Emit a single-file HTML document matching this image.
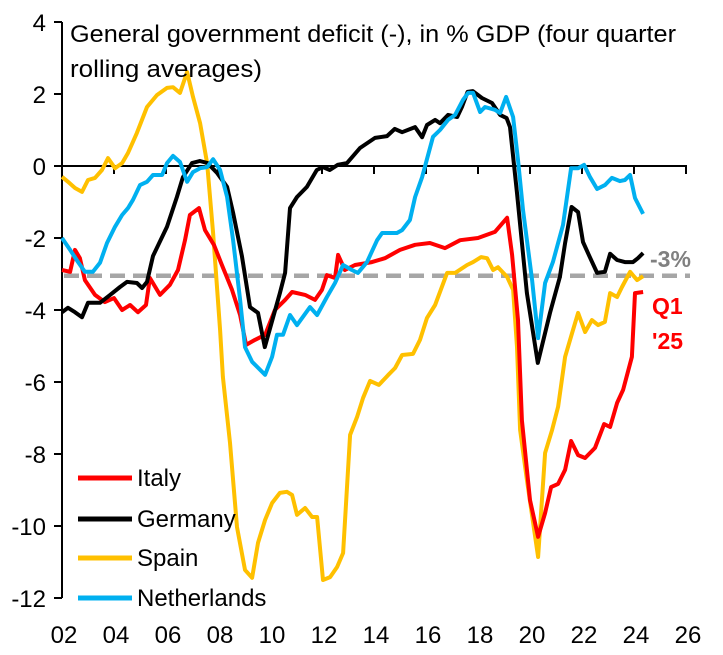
<!DOCTYPE html>
<html><head><meta charset="utf-8"><style>
body{margin:0;background:#fff;}
svg{display:block;font-family:"Liberation Sans",Arial,sans-serif;}
</style></head><body>
<svg id="chart" width="723" height="655" viewBox="0 0 723 655" xmlns="http://www.w3.org/2000/svg">
<rect width="723" height="655" fill="#fff"/>
<g id="axes"></g>
<g id="series"></g>
<text x="70" y="42" font-size="24" textLength="606" lengthAdjust="spacingAndGlyphs" fill="#000">General government deficit (-), in % GDP (four quarter</text>
<text x="70" y="77" font-size="24" textLength="192" lengthAdjust="spacingAndGlyphs" fill="#000">rolling averages)</text>
<text x="650" y="267" font-size="23" font-weight="bold" fill="#808080">-3%</text>
<text x="652" y="314" font-size="23" font-weight="bold" fill="#FF0000">Q1</text>
<text x="652" y="349" font-size="23" font-weight="bold" fill="#FF0000">'25</text>
<g id="legend"></g>
</svg>
<script>
const yTicks=[4,2,0,-2,-4,-6,-8,-10,-12];
const xTickYears=[2002,2004,2006,2008,2010,2012,2014,2016,2018,2020,2022,2024,2026];
const xTickLabels=["02","04","06","08","10","12","14","16","18","20","22","24","26"];
const threshold=-3.05;
const seriesNames=["Italy","Germany","Spain","Netherlands"];
const seriesColors=["#FF0000","#000000","#FFC000","#00B0F0"];

const italyYears=[2002.00,2002.31,2002.50,2002.69,2002.88,2003.27,2003.65,2004.00,2004.31,2004.62,2004.92,2005.23,2005.38,2005.77,2006.15,2006.46,2006.73,2006.92,2007.27,2007.50,2007.85,2008.15,2008.54,2008.85,2009.08,2009.42,2009.81,2010.19,2010.58,2010.85,2011.35,2011.73,2012.00,2012.19,2012.50,2012.62,2012.88,2013.27,2013.92,2014.42,2015.00,2015.58,2016.15,2016.73,2017.31,2018.00,2018.65,2019.12,2019.31,2019.54,2019.69,2020.00,2020.31,2020.58,2020.81,2021.08,2021.35,2021.58,2021.85,2022.12,2022.50,2022.85,2023.08,2023.35,2023.58,2023.92,2024.04,2024.35];
const italyValues=[-2.89,-2.94,-2.33,-2.56,-3.17,-3.58,-3.78,-3.67,-4.0,-3.86,-4.06,-3.86,-3.11,-3.58,-3.3,-2.89,-2.06,-1.36,-1.17,-1.78,-2.2,-2.75,-3.44,-4.14,-4.97,-4.83,-4.69,-4.0,-3.72,-3.5,-3.58,-3.72,-3.44,-3.03,-3.11,-2.47,-2.89,-2.75,-2.67,-2.56,-2.33,-2.19,-2.14,-2.28,-2.06,-2.0,-1.83,-1.44,-2.47,-4.28,-7.06,-9.28,-10.3,-9.64,-8.92,-8.83,-8.44,-7.64,-8.03,-8.11,-7.83,-7.17,-7.25,-6.58,-6.22,-5.3,-3.53,-3.5];

const germanyYears=[2002.0,2002.23,2002.5,2002.77,2003.0,2003.46,2003.85,2004.23,2004.5,2004.88,2005.08,2005.27,2005.5,2006.04,2006.42,2006.65,2007.0,2007.3,2007.6,2007.96,2008.35,2008.58,2008.92,2009.23,2009.54,2009.8,2010.38,2010.58,2010.77,2011.04,2011.42,2011.8,2012.04,2012.3,2012.6,2012.96,2013.46,2014.04,2014.5,2014.8,2015.08,2015.58,2015.85,2016.04,2016.35,2016.54,2016.85,2017.2,2017.38,2017.6,2017.8,2018.15,2018.54,2018.85,2019.1,2019.23,2019.5,2019.88,2020.3,2020.77,2021.15,2021.35,2021.6,2021.85,2022.04,2022.3,2022.58,2022.88,2023.08,2023.35,2023.65,2023.96,2024.15,2024.35];
const germanyValues=[-4.06,-3.94,-4.06,-4.2,-3.8,-3.8,-3.58,-3.36,-3.22,-3.25,-3.39,-3.22,-2.5,-1.69,-0.86,-0.31,0.08,0.14,0.08,-0.19,-0.58,-1.3,-2.5,-3.92,-4.08,-5.03,-3.53,-2.97,-1.17,-0.86,-0.58,-0.11,-0.03,-0.11,0.03,0.08,0.5,0.78,0.83,1.03,0.94,1.08,0.8,1.14,1.28,1.19,1.42,1.36,1.64,2.06,2.08,1.89,1.75,1.42,1.33,1.08,-0.75,-3.53,-5.47,-4.08,-3.08,-2.14,-1.14,-1.28,-2.11,-2.53,-2.97,-2.94,-2.44,-2.61,-2.67,-2.67,-2.56,-2.42];

const spainYears=[2002.0,2002.23,2002.5,2002.77,2003.0,2003.27,2003.54,2003.77,2004.04,2004.31,2004.54,2004.88,2005.27,2005.65,2006.04,2006.27,2006.54,2006.81,2007.04,2007.31,2007.58,2007.81,2008.08,2008.19,2008.46,2008.73,2009.04,2009.31,2009.54,2009.81,2010.08,2010.38,2010.65,2010.85,2011.04,2011.35,2011.62,2011.81,2012.04,2012.31,2012.58,2012.81,2013.08,2013.35,2013.58,2013.85,2014.19,2014.54,2014.81,2015.08,2015.5,2015.77,2016.04,2016.35,2016.81,2017.12,2017.58,2017.81,2018.12,2018.35,2018.58,2018.77,2019.12,2019.35,2019.5,2019.62,2019.88,2020.31,2020.58,2020.85,2021.08,2021.35,2021.62,2021.85,2022.12,2022.38,2022.62,2022.88,2023.08,2023.35,2023.54,2023.85,2024.12,2024.35];
const spainValues=[-0.3,-0.44,-0.61,-0.72,-0.39,-0.33,-0.11,0.22,-0.06,0.08,0.36,0.92,1.64,1.97,2.17,2.19,2.03,2.61,1.92,1.19,0.08,-1.86,-4.56,-5.86,-7.69,-10.03,-11.22,-11.44,-10.47,-9.83,-9.36,-9.08,-9.05,-9.14,-9.69,-9.5,-9.75,-9.75,-11.5,-11.42,-11.14,-10.75,-7.47,-6.97,-6.44,-5.97,-6.08,-5.81,-5.61,-5.25,-5.22,-4.83,-4.22,-3.86,-2.97,-2.97,-2.75,-2.67,-2.53,-2.56,-2.89,-2.81,-3.08,-3.44,-5.03,-7.33,-8.72,-10.86,-7.97,-7.33,-6.69,-5.3,-4.64,-4.08,-4.61,-4.28,-4.42,-4.33,-3.53,-3.64,-3.36,-2.94,-3.17,-3.06];

const nlYears=[2002.0,2002.31,2002.62,2002.88,2003.19,2003.46,2003.73,2004.04,2004.31,2004.54,2004.73,2005.0,2005.27,2005.5,2005.85,2006.04,2006.27,2006.54,2006.81,2007.04,2007.31,2007.58,2007.81,2008.08,2008.35,2008.58,2008.85,2009.04,2009.31,2009.81,2010.08,2010.27,2010.5,2010.77,2011.04,2011.54,2011.81,2012.19,2012.5,2012.81,2013.15,2013.38,2013.73,2014.12,2014.31,2014.88,2015.08,2015.38,2015.58,2015.85,2016.27,2016.54,2016.85,2017.12,2017.42,2017.62,2017.81,2018.08,2018.27,2018.65,2018.85,2019.08,2019.35,2019.54,2019.73,2020.08,2020.31,2020.58,2020.88,2021.27,2021.58,2021.85,2022.08,2022.31,2022.58,2022.88,2023.15,2023.46,2023.65,2023.85,2024.04,2024.35];
const nlValues=[-2.0,-2.33,-2.67,-2.94,-2.94,-2.69,-2.14,-1.69,-1.36,-1.17,-0.94,-0.53,-0.44,-0.25,-0.25,0.08,0.28,0.11,-0.44,-0.17,-0.06,-0.03,0.19,-0.11,-0.86,-2.06,-3.72,-5.03,-5.44,-5.8,-5.3,-4.69,-4.69,-4.14,-4.42,-3.92,-4.14,-3.64,-3.25,-2.75,-2.89,-2.97,-2.67,-2.06,-1.86,-1.86,-1.78,-1.5,-0.86,-0.31,0.81,1.0,1.28,1.42,1.83,2.03,2.03,1.5,1.64,1.56,1.47,1.92,1.36,0.17,-1.22,-3.17,-4.78,-3.25,-2.67,-1.64,-0.06,-0.06,0.03,-0.31,-0.64,-0.53,-0.33,-0.42,-0.39,-0.25,-0.89,-1.33];

const NS="http://www.w3.org/2000/svg";
const X0=62,Y0=166,PXY=26,PXV=36;
function xScale(yr){return X0+(yr-2002)*PXY;}
function yScale(v){return Y0-v*PXV;}
function mk(tag,attrs,parent){const e=document.createElementNS(NS,tag);for(const k in attrs)e.setAttribute(k,attrs[k]);parent.appendChild(e);return e;}

const axes=document.getElementById('axes');
const yAxis=mk('line',{x1:X0,x2:X0,y1:yScale(4),y2:yScale(-12),stroke:'#000','stroke-width':2},axes);


yTicks.forEach(t=>{
  const tk=mk('line',{x1:X0-8,x2:X0,y1:yScale(t),y2:yScale(t),stroke:'#000','stroke-width':2},axes);
  
  
  const lb=mk('text',{x:X0-16,y:yScale(t)+9,'text-anchor':'end','font-size':24,fill:'#000'},axes);
  lb.textContent=String(t);
  
  
});
const xAxis=mk('line',{x1:X0,x2:xScale(2026)+1,y1:Y0,y2:Y0,stroke:'#000','stroke-width':2},axes);


xTickYears.forEach((yr,i)=>{
  const tk=mk('line',{x1:xScale(yr),x2:xScale(yr),y1:Y0,y2:Y0+8,stroke:'#000','stroke-width':2},axes);
  
  
  const lb=mk('text',{x:xScale(yr)+2,y:643,'text-anchor':'middle','font-size':24,fill:'#000'},axes);
  lb.textContent=xTickLabels[i];
  
  
});

const ser=document.getElementById('series');
const th=mk('line',{x1:X0+2,x2:690,y1:yScale(threshold),y2:yScale(threshold),stroke:'#A6A6A6','stroke-width':4.5,'stroke-dasharray':'15 8'},ser);



const allYears=[italyYears,germanyYears,spainYears,nlYears];
const allValues=[italyValues,germanyValues,spainValues,nlValues];
const order=[2,0,1,3];
order.forEach(i=>{
  const pts=allYears[i].map((yr,j)=>xScale(yr).toFixed(1)+','+yScale(allValues[i][j]).toFixed(1)).join(' ');
  const pl=mk('polyline',{points:pts,fill:'none',stroke:seriesColors[i],'stroke-width':4,'stroke-linejoin':'round'},ser);
  
  
});

const leg=document.getElementById('legend');
const legY=[478,519,558,598];
seriesNames.forEach((n,i)=>{
  const g=mk('g',{},leg);
  
  
  mk('line',{x1:78,x2:132,y1:legY[i],y2:legY[i],stroke:seriesColors[i],'stroke-width':5},g);
  const t=mk('text',{x:137,y:legY[i]+8,'font-size':24,fill:'#000'},g);
  t.textContent=n;
});
</script>
</body></html>
